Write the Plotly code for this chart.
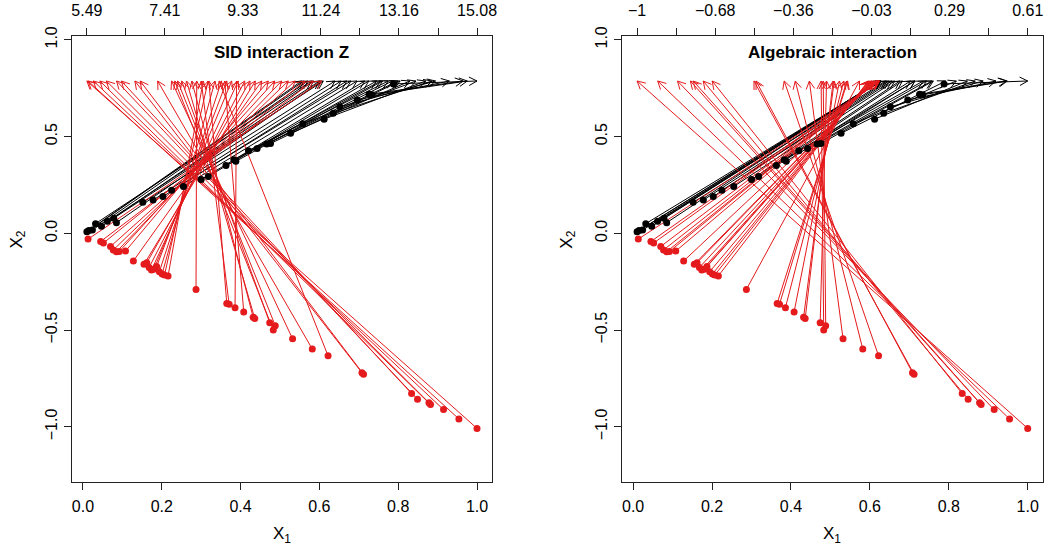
import numpy as np
import plotly.graph_objects as go

# ---------------- data ----------------
red_x1 = [0.013, 0.045, 0.052, 0.070, 0.077, 0.085, 0.092, 0.108, 0.128, 0.155,
          0.162, 0.168, 0.174, 0.180, 0.187, 0.194, 0.201, 0.207, 0.216, 0.287,
          0.365, 0.371, 0.386, 0.408, 0.432, 0.436, 0.474, 0.483, 0.488, 0.532,
          0.582, 0.622, 0.708, 0.712, 0.834, 0.849, 0.878, 0.882, 0.915, 0.954, 1.000]
red_x2 = [-0.030, -0.042, -0.050, -0.068, -0.086, -0.095, -0.094, -0.092, -0.143, -0.160,
          -0.152, -0.176, -0.190, -0.186, -0.172, -0.198, -0.210, -0.215, -0.220, -0.290,
          -0.362, -0.366, -0.384, -0.406, -0.434, -0.440, -0.462, -0.500, -0.477, -0.545,
          -0.598, -0.633, -0.720, -0.728, -0.828, -0.857, -0.875, -0.885, -0.911, -0.959, -1.008]
black_x1 = [0.010, 0.015, 0.024, 0.032, 0.047, 0.062, 0.078, 0.085, 0.152, 0.178,
            0.203, 0.225, 0.255, 0.300, 0.318, 0.363, 0.383, 0.388, 0.420, 0.442,
            0.466, 0.476, 0.527, 0.558, 0.612, 0.635, 0.652, 0.696, 0.726, 0.734, 0.788]
black_x2 = [0.008, 0.014, 0.017, 0.050, 0.036, 0.062, 0.078, 0.055, 0.160, 0.172,
            0.190, 0.222, 0.242, 0.278, 0.294, 0.350, 0.380, 0.372, 0.427, 0.438,
            0.462, 0.464, 0.517, 0.566, 0.590, 0.620, 0.654, 0.689, 0.718, 0.716, 0.772]

# SID interaction Z (left panel)
red_z_sid = [11.26, 11.05, 10.85, 10.61, 10.44, 10.28, 10.11, 9.95, 9.79, 9.63,
             9.50, 9.37, 9.21, 9.05, 8.93, 8.80, 8.64, 8.47, 8.35, 8.19,
             8.49, 8.30, 9.17, 8.88, 8.07, 7.94, 7.82, 7.65, 7.72, 7.57,
             7.23, 8.74, 6.67, 6.80, 6.34, 6.22, 5.97, 5.81, 5.65, 5.52, 5.49]
black_z_sid = [10.77, 10.82, 10.92, 11.01, 11.06, 11.21, 11.30, 11.25, 11.59, 11.74,
               11.88, 11.98, 12.13, 12.32, 12.42, 12.61, 12.71, 12.76, 12.90, 13.00,
               13.14, 13.19, 13.43, 13.58, 13.82, 13.97, 14.06, 14.40, 14.74, 14.84, 15.08]
# Algebraic interaction (right panel)
red_z_alg = [-0.0004, -0.0019, -0.0026, -0.0048, -0.0066, -0.0081, -0.0086, -0.0099, -0.0183, -0.0248,
             -0.0246, -0.0296, -0.0331, -0.0335, -0.0322, -0.0384, -0.0422, -0.0445, -0.0475, -0.0832,
             -0.1321, -0.1358, -0.1482, -0.1656, -0.1875, -0.1918, -0.2190, -0.2415, -0.2328, -0.2899,
             -0.3480, -0.3937, -0.5098, -0.5183, -0.6906, -0.7276, -0.7683, -0.7806, -0.8336, -0.9149, -1.0]
black_z_alg = [0.0001, 0.0002, 0.0004, 0.0016, 0.0017, 0.0038, 0.0061, 0.0047, 0.0243, 0.0306,
               0.0386, 0.0500, 0.0617, 0.0834, 0.0935, 0.1271, 0.1455, 0.1443, 0.1793, 0.1936,
               0.2153, 0.2209, 0.2725, 0.3158, 0.3611, 0.3937, 0.4264, 0.4795, 0.5213, 0.5255, 0.61]

panel_titles = ["SID interaction Z", "Algebraic interaction"]
x_ticks = [0.0, 0.2, 0.4, 0.6, 0.8, 1.0]
y_ticks = [-1.0, -0.5, 0.0, 0.5, 1.0]
arrow_level = 0.787

# ---------------- layout geometry ----------------
W, H = 1050, 546
dom_x = [[71.5 / W, 492 / W], [621.7 / W, 1042.7 / W]]
dom_y = [1 - 482 / H, 1 - 36 / H]
xr = [-0.029, 1.038]
yr = [-1.285, 1.0196]
RED = "#E41A1C"
FONT = "Liberation Sans, Arial, Helvetica, sans-serif"

x1_all = np.array(red_x1 + black_x1)
a_lo, a_hi = x1_all.min(), x1_all.max()


def panel_px_scale(k):
    sx = (dom_x[k][1] - dom_x[k][0]) * W / (xr[1] - xr[0])
    sy = (dom_y[1] - dom_y[0]) * H / (yr[1] - yr[0])
    return sx, sy


def build_paths(x1, x2, z, zmin, zmax, k):
    sx, sy = panel_px_scale(k)
    xs, ys = [], []
    for px, py, zz in zip(x1, x2, z):
        xa = a_lo + (zz - zmin) / (zmax - zmin) * (a_hi - a_lo)
        ya = arrow_level
        xs += [px, xa, None]
        ys += [py, ya, None]
        # open arrow head (~30 degrees, ~9 px)
        dx, dy = (xa - px) * sx, (ya - py) * sy
        n = np.hypot(dx, dy)
        ux, uy = -dx / n, -dy / n
        L = 9.0
        for ang in (np.radians(28), -np.radians(28)):
            rx = ux * np.cos(ang) - uy * np.sin(ang)
            ry = ux * np.sin(ang) + uy * np.cos(ang)
            xs += [xa + L * rx / sx, xa, None]
            ys += [ya + L * ry / sy, ya, None]
    return xs, ys


def fmt(v):
    s = f"{round(v, 2):g}"
    return s.replace("-", "\u2212")


fig = go.Figure()
panels = [(red_z_sid, black_z_sid), (red_z_alg, black_z_alg)]
for k, (rz, bz) in enumerate(panels):
    xa_name = "x" if k == 0 else "x2"
    ya_name = "y" if k == 0 else "y2"
    top_x = "x3" if k == 0 else "x4"
    zall = np.array(rz + bz)
    zmin, zmax = zall.min(), zall.max()
    bxs, bys = build_paths(black_x1, black_x2, bz, zmin, zmax, k)
    rxs, rys = build_paths(red_x1, red_x2, rz, zmin, zmax, k)
    fig.add_trace(go.Scatter(x=bxs, y=bys, mode="lines", line=dict(color="black", width=1),
                             xaxis=xa_name, yaxis=ya_name, hoverinfo="skip", showlegend=False))
    fig.add_trace(go.Scatter(x=rxs, y=rys, mode="lines", line=dict(color=RED, width=1),
                             xaxis=xa_name, yaxis=ya_name, hoverinfo="skip", showlegend=False))
    fig.add_trace(go.Scatter(x=black_x1, y=black_x2, mode="markers",
                             marker=dict(color="black", size=7),
                             xaxis=xa_name, yaxis=ya_name, showlegend=False))
    fig.add_trace(go.Scatter(x=red_x1, y=red_x2, mode="markers",
                             marker=dict(color=RED, size=7),
                             xaxis=xa_name, yaxis=ya_name, showlegend=False))
    # invisible trace so the top (interaction value) axis is drawn
    fig.add_trace(go.Scatter(x=list(bz), y=[arrow_level] * len(bz), mode="markers",
                             marker=dict(opacity=0), xaxis=top_x, yaxis=ya_name,
                             hoverinfo="skip", showlegend=False))

    # top axis of interaction values
    scale = (zmax - zmin) / (a_hi - a_lo)
    top_range = [zmin + (xr[0] - a_lo) * scale, zmin + (xr[1] - a_lo) * scale]
    tv = np.linspace(zmin, zmax, 11)
    top_name = "xaxis3" if k == 0 else "xaxis4"
    fig.update_layout(**{top_name: dict(
        overlaying=xa_name, anchor=ya_name, side="top", range=top_range,
        tickmode="array", tickvals=list(tv[::2]), ticktext=[fmt(v) for v in tv[::2]],
        ticks="outside", ticklen=7, tickwidth=1, tickcolor="#222",
        minor=dict(tickmode="array", tickvals=list(tv[1::2]), ticks="outside",
                   ticklen=7, tickwidth=1, tickcolor="#222", showgrid=False),
        ticklabelstandoff=6,
        showline=False, showgrid=False, zeroline=False,
        automargin=False, tickfont=dict(size=16, color="black", family=FONT))})

    xkey = "xaxis" if k == 0 else "xaxis2"
    ykey = "yaxis" if k == 0 else "yaxis2"
    fig.update_layout(**{
        xkey: dict(domain=dom_x[k], range=xr, anchor=ya_name, tickvals=x_ticks,
                   tickformat=".1f", ticks="outside", ticklen=7, tickcolor="#222",
                   showline=True, linecolor="#222", linewidth=1, mirror=True,
                   showgrid=False, zeroline=False, automargin=False,
                   ticklabelstandoff=3,
                   tickfont=dict(size=16, color="black", family=FONT)),
        ykey: dict(domain=dom_y, range=yr, anchor=xa_name, tickvals=y_ticks,
                   tickformat=".1f", ticks="outside", ticklen=7, tickcolor="#222",
                   showline=True, linecolor="#222", linewidth=1, mirror=True,
                   showgrid=False, zeroline=False, tickangle=-90, automargin=False,
                   tickfont=dict(size=16, color="black", family=FONT)),
    })

    cx = (dom_x[k][0] + dom_x[k][1]) / 2
    fig.add_annotation(text="<b>%s</b>" % panel_titles[k], x=cx, y=1 - 53 / H,
                       xref="paper", yref="paper", showarrow=False,
                       xanchor="center", yanchor="middle",
                       font=dict(size=17, color="black", family=FONT))
    fig.add_annotation(text="X<sub>1</sub>", x=cx, y=1 - 535 / H,
                       xref="paper", yref="paper", showarrow=False,
                       xanchor="center", yanchor="middle",
                       font=dict(size=17, color="black", family=FONT))
    fig.add_annotation(text="X<sub>2</sub>", x=dom_x[k][0] - 54 / W, y=1 - 240 / H,
                       xref="paper", yref="paper", showarrow=False, textangle=-90,
                       xanchor="center", yanchor="middle",
                       font=dict(size=17, color="black", family=FONT))

fig.update_layout(width=W, height=H, margin=dict(l=0, r=0, t=0, b=0, autoexpand=False),
                  plot_bgcolor="white", paper_bgcolor="white",
                  font=dict(family=FONT, color="black"))
fig.write_html("out.html", config={"displayModeBar": False},
               post_script="document.body.style.margin='0';")
